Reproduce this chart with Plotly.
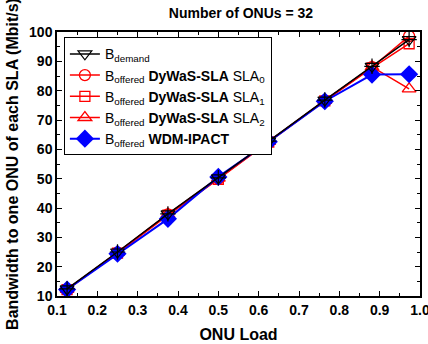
import plotly.graph_objects as go

onu_load = [0.125, 0.25, 0.375, 0.5, 0.625, 0.764, 0.881, 0.973]
b_demand = [12.4, 25.0, 38.0, 50.3, 62.8, 76.8, 88.3, 97.4]
dywas_sla0 = [12.3, 24.8, 37.8, 50.0, 62.6, 76.6, 88.0, 98.6]
dywas_sla1 = [12.2, 24.6, 37.6, 49.8, 62.5, 76.5, 87.8, 96.0]
dywas_sla2 = [12.3, 24.9, 37.9, 50.2, 62.7, 76.7, 88.1, 80.6]
wdm_ipact = [12.2, 24.4, 36.3, 50.6, 62.6, 76.4, 85.5, 85.6]

x_ticks = [0.1, 0.2, 0.3, 0.4, 0.5, 0.6, 0.7, 0.8, 0.9, 1.0]
x_tick_labels = ["0.1", "0.2", "0.3", "0.4", "0.5", "0.6", "0.7", "0.8", "0.9", "1.0"]
y_ticks = [10, 20, 30, 40, 50, 60, 70, 80, 90, 100]

FONT = "Liberation Sans, Arial, Helvetica, sans-serif"

fig = go.Figure()

fig.add_trace(go.Scatter(
    x=onu_load, y=dywas_sla0, mode="lines+markers",
    name="B<sub>offered</sub> <b>DyWaS-SLA</b> SLA<sub>0</sub>",
    line=dict(color="#ff0000", width=1.5),
    marker=dict(symbol="circle-open", size=11, color="#ff0000", line=dict(width=1.3)),
    legendrank=2))
fig.add_trace(go.Scatter(
    x=onu_load, y=dywas_sla1, mode="lines+markers",
    name="B<sub>offered</sub> <b>DyWaS-SLA</b> SLA<sub>1</sub>",
    line=dict(color="#ff0000", width=1.5),
    marker=dict(symbol="square-open", size=10, color="#ff0000", line=dict(width=1.3)),
    legendrank=3))
fig.add_trace(go.Scatter(
    x=onu_load, y=dywas_sla2, mode="lines+markers",
    name="B<sub>offered</sub> <b>DyWaS-SLA</b> SLA<sub>2</sub>",
    line=dict(color="#ff0000", width=1.5),
    marker=dict(symbol="triangle-up-open", size=12, color="#ff0000", line=dict(width=1.3)),
    legendrank=4))
fig.add_trace(go.Scatter(
    x=onu_load, y=wdm_ipact, mode="lines+markers",
    name="B<sub>offered</sub> <b>WDM-IPACT</b>",
    line=dict(color="#0000ff", width=2),
    marker=dict(symbol="diamond", size=14, color="#0000ff"),
    legendrank=5))
fig.add_trace(go.Scatter(
    x=onu_load, y=b_demand, mode="lines+markers",
    name="B<sub>demand</sub>",
    line=dict(color="#000000", width=1.5),
    marker=dict(symbol="triangle-down-open", size=12, color="#000000", line=dict(width=1.2)),
    legendrank=1))
fig.add_trace(go.Scatter(
    x=onu_load, y=b_demand, mode="markers", showlegend=False, hoverinfo="skip",
    marker=dict(symbol="cross-thin-open", size=11, color="#000000", line=dict(width=1.2, color="#000000"))))

axis_common = dict(
    showline=True, linecolor="black", linewidth=1.5, mirror="ticks",
    ticks="inside", ticklen=5, tickwidth=1, tickcolor="black",
    showgrid=False, zeroline=False, automargin=False,
    ticklabeloverflow="allow",
    tickfont=dict(family=FONT, size=14, color="black", weight="bold"),
)

fig.update_xaxes(
    range=[0.1, 1.0], tickvals=x_ticks, ticktext=x_tick_labels,
    minor=dict(ticks="inside", ticklen=3, tickcolor="black", dtick=0.05, showgrid=False),
    title=dict(text="<b>ONU Load</b>", font=dict(family=FONT, size=16, color="black"), standoff=12),
    **axis_common)
fig.update_yaxes(
    range=[10, 100], tickvals=y_ticks,
    minor=dict(ticks="inside", ticklen=3, tickcolor="black", dtick=5, showgrid=False),
    title=dict(text="<b>Bandwidth to one ONU of each SLA (Mbit/s)</b>", font=dict(family=FONT, size=16, color="black"), standoff=6),
    **axis_common)

fig.update_layout(
    width=428, height=344,
    margin=dict(l=57, r=8, t=32, b=48),
    paper_bgcolor="white", plot_bgcolor="white",
    font=dict(family=FONT, color="black"),
    title=dict(text="<b>Number of ONUs = 32</b>", x=0.563, xanchor="center", y=0.962, yanchor="middle",
               font=dict(family=FONT, size=14, color="black")),
    legend=dict(x=0.019, y=0.98, xanchor="left", yanchor="top",
                bgcolor="white", bordercolor="black", borderwidth=1,
                font=dict(family=FONT, size=14, color="black"),
                tracegroupgap=0, itemwidth=30),
    showlegend=True,
)

fig.write_html("out.html",
               config={"displayModeBar": False, "responsive": False},
               post_script="document.body.style.margin='0';document.body.style.overflow='hidden';")
